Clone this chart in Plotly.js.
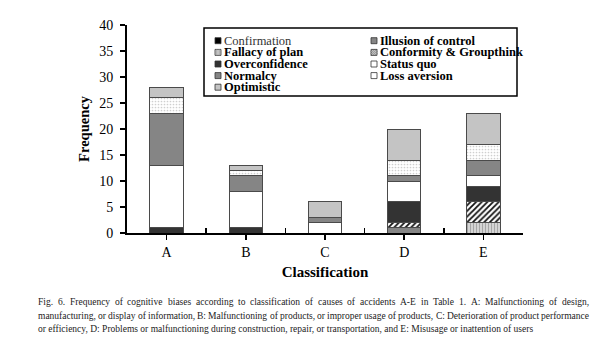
<!DOCTYPE html>
<html>
<head>
<meta charset="utf-8">
<script src="https://cdn.plot.ly/plotly-3.0.1.min.js"></script>
<style>html,body{margin:0;padding:0;background:#fff;}#chart{width:602px;height:354px;}</style>
</head>
<body>
<div id="chart"></div>
<script>
// ---- data ----
const categories = ['A', 'B', 'C', 'D', 'E'];
const confirmation      = [0, 0, 0, 0, 0];
const illusionOfControl = [0, 0, 0, 1, 0];
const fallacyOfPlan     = [0, 0, 0, 0, 2];
const conformity        = [0, 0, 0, 1, 4];
const overconfidence    = [1, 1, 0, 4, 3];
const statusQuo         = [12, 7, 2, 4, 2];
const normalcy          = [10, 3, 1, 1, 3];
const lossAversion      = [3, 1, 0, 3, 3];
const optimistic        = [2, 1, 3, 6, 6];
const seriesNames = ['Confirmation', 'Illusion of control', 'Fallacy of plan', 'Conformity & Groupthink',
  'Overconfidence', 'Status quo', 'Normalcy', 'Loss aversion', 'Optimistic'];
const yTicks = [0, 5, 10, 15, 20, 25, 30, 35, 40];
const captionLines = [
  'Fig. 6. Frequency of cognitive biases according to classification of causes of accidents A-E in Table 1. A: Malfunctioning of design,',
  'manufacturing, or display of information, B: Malfunctioning of products, or improper usage of products, C: Deterioration of product performance',
  'or efficiency, D: Problems or malfunctioning during construction, repair, or transportation, and E: Misusage or inattention of users'
];

// ---- styles ----
const seriesValues = [confirmation, illusionOfControl, fallacyOfPlan, conformity, overconfidence,
  statusQuo, normalcy, lossAversion, optimistic];
const styles = [
  {bg: '#000000'},
  {bg: '#858585'},
  {bg: '#d4d4d4', pat: {shape: '|', fgcolor: '#a0a0a0', size: 3, solidity: 0.3}},
  {bg: '#ffffff', pat: {shape: '/', fgcolor: '#111111', size: 4, solidity: 0.45}},
  {bg: '#333333'},
  {bg: '#ffffff'},
  {bg: '#858585'},
  {bg: '#ffffff', pat: {shape: '.', fgcolor: '#cfcfcf', size: 3, solidity: 0.25}},
  {bg: '#c4c4c4'}
];

const serifName = 'Liberation Serif';
const serif = '"Liberation Serif", "Times New Roman", Times, serif';
const traces = seriesValues.map((vals, i) => {
  const st = styles[i];
  const marker = {color: st.bg, line: {color: '#4a4a4a', width: 1}};
  if (st.pat) {
    marker.pattern = Object.assign({bgcolor: st.bg, fillmode: 'replace'}, st.pat);
  }
  return {type: 'bar', x: categories, y: vals, name: seriesNames[i], marker: marker,
    showlegend: false, hoverinfo: 'skip'};
});
// helper trace for boundary ticks axis
traces.push({type: 'scatter', x: [0], y: [0], xaxis: 'x2', mode: 'markers',
  marker: {opacity: 0, size: 1}, showlegend: false, hoverinfo: 'skip'});

// ---- layout geometry ----
const L = 127, T = 25, W = 396, H = 208;
const px = x => (x - L) / W;
const py = y => (T + H - y) / H;

const shapes = [];
const annotations = [];
// legend box
shapes.push({type: 'rect', xref: 'paper', yref: 'paper', x0: px(204), x1: px(517), y0: py(28), y1: py(96),
  line: {color: '#000', width: 1.5}, fillcolor: 'rgba(0,0,0,0)'});
const rowY = [40.7, 52.4, 64, 75.6, 87.2];
const colSw = [215, 371];
const colTx = [222, 378];
seriesNames.forEach((name, i) => {
  const r = Math.floor(i / 2), c = i % 2;
  const yc = rowY[r], x0 = colSw[c];
  const s = 6;
  shapes.push({type: 'rect', xref: 'paper', yref: 'paper', x0: px(x0), x1: px(x0 + s),
    y0: py(yc + s / 2), y1: py(yc - s / 2), fillcolor: styles[i].bg, line: {color: '#333', width: 0.8}});
  if (i === 3) {
    let path = '';
    for (let k = -4; k <= 4; k += 2) {
      const xa = Math.max(x0, x0 + k), xb = Math.min(x0 + s, x0 + k + s);
      const ya = yc + s / 2 - (xa - (x0 + k)), yb = yc + s / 2 - (xb - (x0 + k));
      path += `M${px(xa)},${py(ya)} L${px(xb)},${py(yb)} `;
    }
    shapes.push({type: 'path', xref: 'paper', yref: 'paper', path: path, line: {color: '#333', width: 0.8}});
  }
  if (i === 2) {
    let path = '';
    for (let k = 1.5; k < s; k += 1.5) path += `M${px(x0 + k)},${py(yc - s / 2)} L${px(x0 + k)},${py(yc + s / 2)} `;
    shapes.push({type: 'path', xref: 'paper', yref: 'paper', path: path, line: {color: '#999', width: 0.6}});
  }
  annotations.push({xref: 'paper', yref: 'paper', x: px(colTx[c]), y: py(yc), xanchor: 'left', yanchor: 'middle',
    text: i === 0 ? name : '<b>' + name + '</b>', showarrow: false,
    font: {family: serif, size: 12.5, color: i === 0 ? '#333' : '#000'}});
});

// caption: lines 1-2 justified between capLeft and capRight, line 3 left aligned
const capSize = 9.5;
const capLeft = 37, capRight = 588;
const capY = [302, 315.5, 329];
const ctx = document.createElement('canvas').getContext('2d');
ctx.font = `${capSize}px "${serifName}"`;
captionLines.forEach((t, i) => {
  const font = {family: serif, size: capSize, color: '#222'};
  if (i < 2) {
    const words = t.split(' ');
    const widths = words.map(w => ctx.measureText(w).width);
    const total = widths.reduce((a, b) => a + b, 0);
    const gap = (capRight - capLeft - total) / (words.length - 1);
    let x = capLeft;
    words.forEach((w, k) => {
      annotations.push({xref: 'paper', yref: 'paper', x: px(x), y: py(capY[i]), xanchor: 'left', yanchor: 'middle',
        text: w, showarrow: false, font: font, borderpad: 0});
      x += widths[k] + gap;
    });
  } else {
    annotations.push({xref: 'paper', yref: 'paper', x: px(capLeft), y: py(capY[i]), xanchor: 'left', yanchor: 'middle',
      text: t, showarrow: false, font: font, borderpad: 0});
  }
});

const layout = {
  width: 602, height: 354,
  margin: {l: L, r: 602 - L - W, t: T, b: 354 - T - H, pad: 0},
  paper_bgcolor: '#fff', plot_bgcolor: '#fff',
  barmode: 'stack', bargap: 0.58,
  showlegend: false,
  font: {family: serif, color: '#000'},
  xaxis: {type: 'category', range: [-0.5, 4.5], showline: true, linecolor: '#000', linewidth: 2,
    ticks: 'outside', ticklen: 5, tickwidth: 1.5, tickcolor: '#000', showgrid: false, zeroline: false,
    tickfont: {family: serif, size: 14, color: '#000'},
    title: {text: '<b>Classification</b>', font: {family: serif, size: 15, color: '#000'}, standoff: 8},
    automargin: false, fixedrange: true},
  xaxis2: {overlaying: 'x', anchor: 'y', range: [-0.5, 4.5], tickvals: [0.5, 1.5, 2.5, 3.5],
    ticks: 'inside', ticklen: 5, tickwidth: 1.5, tickcolor: '#000', showticklabels: false,
    showline: false, showgrid: false, zeroline: false, side: 'bottom', fixedrange: true},
  yaxis: {range: [0, 40], tickvals: yTicks, ticktext: yTicks.map(String), showline: true, linecolor: '#000',
    linewidth: 2, ticks: 'outside', ticklen: 5, tickwidth: 1.5, tickcolor: '#000', showgrid: false,
    zeroline: false, tickfont: {family: serif, size: 14, color: '#000'}, ticklabelstandoff: 4,
    title: {text: '<b>Frequency</b>', font: {family: serif, size: 14.5, color: '#000'}, standoff: 6},
    automargin: false, fixedrange: true},
  shapes: shapes,
  annotations: annotations
};

Plotly.newPlot('chart', traces, layout, {staticPlot: true, displayModeBar: false});
</script>
</body>
</html>
